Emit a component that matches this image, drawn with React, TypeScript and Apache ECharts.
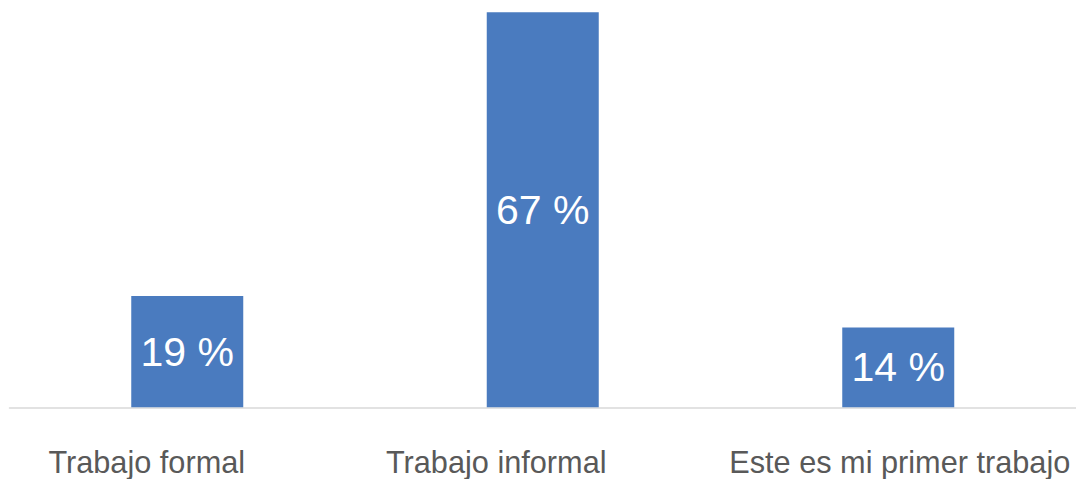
import React, { useEffect, useRef } from "react";
import * as echarts from "echarts";

const categories = ["Trabajo formal", "Trabajo informal", "Este es mi primer trabajo"];
const values = [19.0, 67.4, 13.6];
const labelStyleKeys = ["l0", "l1", "l2"];

export default function App() {
  const ref = useRef<HTMLDivElement>(null);
  useEffect(() => {
    if (!ref.current) return;
    const chart = echarts.init(ref.current, undefined, { renderer: "svg" });
    const font = "Liberation Sans, Arial, sans-serif";
    const base = { color: "#595959", fontSize: 30.7, fontFamily: font };
    chart.setOption({
      animation: false,
      backgroundColor: "#ffffff",
      textStyle: { fontFamily: font },
      grid: { left: 9.5, width: 1071, top: 12.3, height: 395, containLabel: false },
      xAxis: {
        type: "category",
        data: categories,
        axisLine: { show: true, lineStyle: { color: "#d9d9d9", width: 1.5 } },
        axisTick: { show: false },
        axisLabel: {
          interval: 0,
          color: "#595959",
          fontSize: 30.7,
          margin: 40,
          fontFamily: font,
          formatter: (v: string, i: number) => `{${labelStyleKeys[i]}|${v}}`,
          rich: {
            l0: { ...base, padding: [0, 81, 0, 0] },
            l1: { ...base, padding: [0, 93, 0, 0] },
            l2: { ...base, padding: [0, 0, 0, 3] },
          },
        },
      },
      yAxis: {
        type: "value",
        min: 0,
        max: 67.4,
        show: false,
        splitLine: { show: false },
      },
      series: [
        {
          type: "bar",
          data: values,
          barWidth: 112,
          itemStyle: { color: "#4a7bbf" },
          label: {
            show: true,
            position: "inside",
            color: "#ffffff",
            fontSize: 41,
            fontFamily: font,
            formatter: (p: any) => `${Math.round(p.value)} %`,
          },
        },
      ],
    });
    return () => chart.dispose();
  }, []);
  return (
    <div
      ref={ref}
      style={{ position: "absolute", left: 0, top: 0, width: 1076, height: 479 }}
    />
  );
}
